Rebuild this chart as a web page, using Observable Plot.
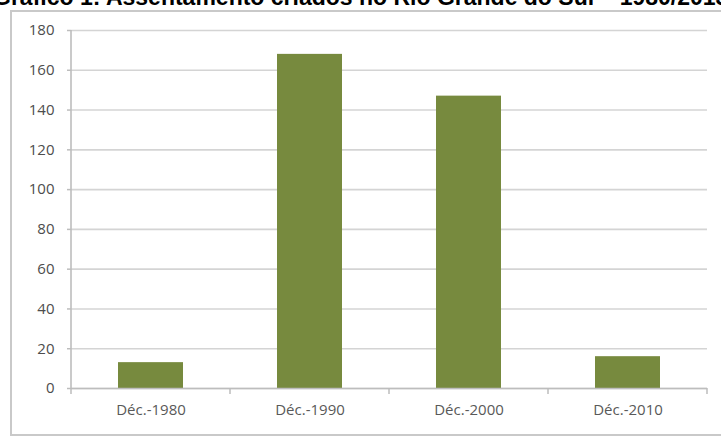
<!DOCTYPE html>
<html>
<head>
<meta charset="utf-8">
<script src="https://cdn.jsdelivr.net/npm/d3@7"></script>
<script src="https://cdn.jsdelivr.net/npm/@observablehq/plot@0.6"></script>
<style>
  html, body { margin: 0; padding: 0; background: #fff; }
  #wrap { position: relative; width: 721px; height: 439px; overflow: hidden; background: #fff; }
  #title { position: absolute; top: -14px; left: -7px; white-space: nowrap;
    font: bold 23px "Liberation Sans", Arial, sans-serif; color: #000; line-height: 23px; }
  #box { position: absolute; left: 10px; top: 10px; width: 730px; height: 426px;
    border: 2px solid #c9c9c9; box-sizing: border-box; }
  #chart { position: absolute; left: 0; top: 0; }
  #chart svg { background: transparent; overflow: visible; }
</style>
</head>
<body>
<div id="wrap">
  <div id="title">Gráfico 1: Assentamento criados no Rio Grande do Sul – 1980/2013</div>
  <div id="box"></div>
  <div id="chart"></div>
</div>
<script>
const categories = ["Déc.-1980", "Déc.-1990", "Déc.-2000", "Déc.-2010"];
const values = [13, 168, 147, 16];
const yTicks = [0, 20, 40, 60, 80, 100, 120, 140, 160, 180];

const data = categories.map((c, i) => ({category: c, value: values[i]}));

const textColor = "#595959";
const gridColor = "#d4d4d4";
const axisColor = "#bdbdbd";
const barColor = "#778a3e";

const chart = Plot.plot({
  width: 721,
  height: 439,
  marginLeft: 71,
  marginRight: 14,
  marginTop: 30,
  marginBottom: 51,
  style: {fontFamily: "'Open Sans', sans-serif", fontSize: "15px", color: textColor, background: "transparent"},
  x: {domain: categories, paddingInner: 0.59, paddingOuter: 0.295, label: null},
  y: {domain: [0, 180], label: null},
  marks: [
    Plot.ruleY(yTicks, {stroke: gridColor, strokeWidth: 1.6}),
    Plot.axisY({ticks: yTicks, tickSize: 4, tickPadding: 13, stroke: axisColor, strokeWidth: 1.5, fill: "#4d4d4d", fontSize: 15}),
    Plot.axisX({tickSize: 0, tickPadding: 16, fill: textColor, fontSize: 15}),
    Plot.barY(data, {x: "category", y: "value", fill: barColor}),
    Plot.ruleY([0], {stroke: axisColor, strokeWidth: 1.6})
  ]
});

document.getElementById("chart").appendChild(chart);

// Excel-style axis line on the left and category boundary ticks at the bottom
const sx = chart.scale("x");
const sy = chart.scale("y");
const svg = d3.select(chart.tagName === "svg" ? chart : chart.querySelector("svg"));
const gap = (sx.step - sx.bandwidth) / 2;
const bounds = categories.map(c => sx.apply(c) - gap);
bounds.push(sx.apply(categories[categories.length - 1]) + sx.bandwidth + gap);
const y0 = sy.apply(0);
const yTop = sy.apply(180);
svg.append("line")
  .attr("x1", bounds[0]).attr("x2", bounds[0])
  .attr("y1", yTop).attr("y2", y0)
  .attr("stroke", axisColor).attr("stroke-width", 1.6);
svg.append("g").selectAll("line").data(bounds).join("line")
  .attr("x1", d => d).attr("x2", d => d)
  .attr("y1", y0).attr("y2", y0 + 6)
  .attr("stroke", axisColor).attr("stroke-width", 1.5);
</script>
</body>
</html>
